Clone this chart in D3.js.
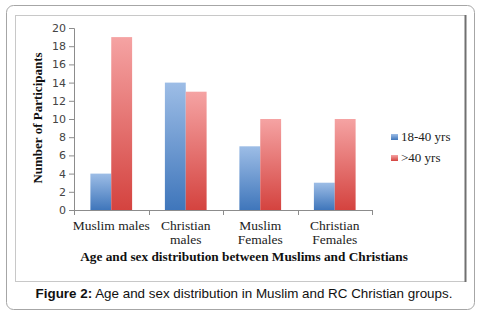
<!DOCTYPE html>
<html>
<head>
<meta charset="utf-8">
<script src="https://cdn.jsdelivr.net/npm/d3@7"></script>
<style>
  body { margin: 0; background: #fff; }
</style>
</head>
<body>
<div id="chart"></div>
<script>
// data
const categories = [["Muslim males"], ["Christian", "males"], ["Muslim", "Females"], ["Christian", "Females"]];
const catKeys = ["Muslim males", "Christian males", "Muslim Females", "Christian Females"];
const series = ["18-40 yrs", ">40 yrs"];
const young = [4, 14, 7, 3];
const old = [19, 13, 10, 10];
const yTicks = [0, 2, 4, 6, 8, 10, 12, 14, 16, 18, 20];

const W = 485, H = 317;
const margin = { top: 28, left: 74, right: 113, bottom: 107 };
const width = W - margin.left - margin.right,
      height = H - margin.top - margin.bottom;

const svg = d3.select("#chart").append("svg")
    .attr("width", W).attr("height", H);

// gradients like the old office bars
const defs = svg.append("defs");
function grad(id, top, bottom) {
  const g = defs.append("linearGradient").attr("id", id)
      .attr("x1", 0).attr("y1", 0).attr("x2", 0).attr("y2", 1);
  g.append("stop").attr("offset", "0%").attr("stop-color", top);
  g.append("stop").attr("offset", "100%").attr("stop-color", bottom);
}
grad("gBlue", "#9dbde6", "#3f76bb");
grad("gRed", "#f5a3a3", "#d4433f");

// outer rounded frame
svg.append("rect")
    .attr("x", 6.5).attr("y", 5.5).attr("width", 468).attr("height", 304)
    .attr("rx", 7).attr("fill", "none").attr("stroke", "#a6a6a6");

// inner chart frame
svg.append("rect")
    .attr("x", 15.5).attr("y", 15.5).attr("width", 450).attr("height", 266)
    .attr("fill", "none").attr("stroke", "#c8c8c8");
svg.append("line")
    .attr("x1", 465.5).attr("x2", 465.5).attr("y1", 15).attr("y2", 282)
    .attr("stroke", "#707070").attr("stroke-width", 2);

const g = svg.append("g")
    .attr("transform", `translate(${margin.left},${margin.top})`);

const x = d3.scaleBand().domain(catKeys).range([0, width]).paddingInner(0).paddingOuter(0);
const xSub = d3.scaleBand().domain(series).range([x.bandwidth() * 0.22, x.bandwidth() * 0.78]);
const y = d3.scaleLinear().domain([0, 20]).range([height, 0]);
const color = d3.scaleOrdinal().domain(series).range(["url(#gBlue)", "url(#gRed)"]);

// y axis
const yAxis = g.append("g")
    .call(d3.axisLeft(y).tickValues(yTicks).tickSize(5).tickPadding(3));
yAxis.select(".domain").attr("stroke", "#8c8c8c");
yAxis.selectAll(".tick line").attr("stroke", "#8c8c8c");
yAxis.selectAll("text")
    .attr("font-family", "DejaVu Sans")
    .attr("font-size", 11)
    .attr("fill", "#444");

// bars
const rows = catKeys.map((c, i) => ({ cat: c, vals: [young[i], old[i]] }));
g.append("g").selectAll("g")
  .data(rows)
  .join("g")
    .attr("transform", d => `translate(${x(d.cat)},0)`)
  .selectAll("rect")
  .data(d => series.map((s, j) => ({ key: s, value: d.vals[j] })))
  .join("rect")
    .attr("x", d => xSub(d.key))
    .attr("y", d => y(d.value))
    .attr("width", xSub.bandwidth())
    .attr("height", d => height - y(d.value))
    .attr("fill", d => color(d.key));

// x axis with ticks on band edges
const xAxis = g.append("g").attr("transform", `translate(0,${height})`);
xAxis.append("line")
    .attr("x1", 0).attr("x2", width).attr("y1", 0.5).attr("y2", 0.5)
    .attr("stroke", "#8c8c8c");
const edges = catKeys.map(c => x(c)).concat([width]);
xAxis.selectAll("line.edge")
  .data(edges)
  .join("line")
    .attr("class", "edge")
    .attr("x1", d => Math.round(d) + 0.5).attr("x2", d => Math.round(d) + 0.5)
    .attr("y1", 0).attr("y2", 5)
    .attr("stroke", "#8c8c8c");
const labels = xAxis.selectAll("text.cat")
  .data(categories)
  .join("text")
    .attr("class", "cat")
    .attr("x", (d, i) => x(catKeys[i]) + x.bandwidth() / 2)
    .attr("y", 20)
    .attr("text-anchor", "middle")
    .attr("font-family", "Liberation Serif")
    .attr("font-size", 13.5)
    .attr("fill", "#222");
labels.selectAll("tspan")
  .data(d => d)
  .join("tspan")
    .attr("x", function () { return this.parentNode.getAttribute("x"); })
    .attr("dy", (d, i) => i === 0 ? 0 : 14)
    .text(d => d);

// axis titles
svg.append("text")
    .attr("transform", "translate(42,118) rotate(-90)")
    .attr("text-anchor", "middle")
    .attr("font-family", "Liberation Serif")
    .attr("font-weight", "bold")
    .attr("font-size", 13)
    .attr("fill", "#111")
    .text("Number of Participants");

svg.append("text")
    .attr("x", 244).attr("y", 261)
    .attr("text-anchor", "middle")
    .attr("font-family", "Liberation Serif")
    .attr("font-weight", "bold")
    .attr("font-size", 13.3)
    .attr("fill", "#111")
    .text("Age and sex distribution between Muslims and Christians");

// legend
const legend = svg.append("g").attr("transform", "translate(391,134)");
series.forEach((s, i) => {
  const row = legend.append("g").attr("transform", `translate(0,${i * 21})`);
  row.append("rect").attr("width", 7).attr("height", 6).attr("fill", color(s));
  row.append("text")
      .attr("x", 10).attr("y", 7)
      .attr("font-family", "Liberation Serif")
      .attr("font-size", 13)
      .attr("fill", "#222")
      .text(s);
});

// caption
const cap = svg.append("text")
    .attr("x", 244).attr("y", 298)
    .attr("text-anchor", "middle")
    .attr("font-family", "Liberation Sans")
    .attr("font-size", 13.4)
    .attr("fill", "#111");
cap.append("tspan").attr("font-weight", "bold").text("Figure 2:");
cap.append("tspan").text(" Age and sex distribution in Muslim and RC Christian groups.");
</script>
</body>
</html>
